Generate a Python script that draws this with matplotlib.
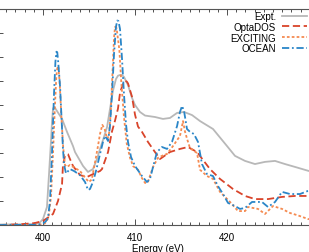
import matplotlib
matplotlib.use("Agg")
import matplotlib.pyplot as plt
from matplotlib.ticker import MultipleLocator, FixedLocator
import numpy as np

plt.rcParams['font.family'] = ['Liberation Sans', 'DejaVu Sans']

expt_E = [395.3, 399.0, 399.6, 400.0, 400.43, 400.65, 400.87, 400.98, 401.09, 401.2, 401.3, 401.52,
          402.07, 402.61, 403.26, 403.48, 404.35, 404.89, 405.43, 405.87, 406.2, 406.63,
          406.96, 407.28, 407.61, 407.93, 408.15, 408.37, 408.6, 408.8, 409.24, 409.67, 410.0, 410.54,
          411.09, 412.17, 413.04, 413.8, 414.57, 415.33, 416.2, 417.07, 418.48, 420.0,
          420.87, 421.96, 423.04, 424.13, 425.22, 426.3, 427.39, 428.9, 430.0]
expt_I = [0.02, 0.03, 0.08, 0.25, 0.75, 2.1, 3.5, 4.3, 4.85, 4.92, 4.88, 4.75,
          4.42, 3.88, 3.29, 3.04, 2.46, 2.21, 2.33, 2.75, 3.17, 3.67,
          4.08, 4.83, 5.6, 6.08, 6.22, 6.25, 6.24, 6.17, 5.83, 5.3, 5.0, 4.71,
          4.56, 4.5, 4.42, 4.46, 4.67, 4.71, 4.58, 4.33, 4.0, 3.29,
          2.88, 2.67, 2.54, 2.63, 2.67, 2.54, 2.42, 2.25, 2.2]

opta_E = [395.3, 397.5, 399.1, 400.0, 400.5, 401.09, 401.63, 402.07, 402.17, 402.39, 402.6, 402.72,
          402.93, 403.26, 404.02, 404.78, 405.43, 406.2, 406.41, 407.07, 407.5, 407.83,
          408.15, 408.37, 408.7, 408.91, 409.1, 409.24, 409.67, 410.0, 410.33, 410.76, 411.41, 412.17,
          412.72, 413.8, 414.89, 415.76, 416.74, 418.15, 419.24, 420.65, 421.96, 423.04,
          424.46, 425.98, 427.39, 428.8, 430.0]
opta_I = [0.0, 0.03, 0.08, 0.17, 0.3, 0.46, 1.0, 1.71, 2.5, 2.88, 2.96, 2.95,
          2.75, 2.46, 2.08, 2.0, 2.12, 2.25, 2.33, 3.04, 3.9, 4.35,
          4.85, 5.5, 5.9, 6.0, 5.98, 5.9, 5.35, 4.6, 4.1, 3.88, 3.46, 3.04,
          2.75, 3.04, 3.17, 3.25, 3.04, 2.33, 1.92, 1.5, 1.21, 1.08,
          1.08, 1.17, 1.21, 1.21, 1.21]

exc_E = [395.3, 399.5, 400.2, 400.6, 400.87, 401.09, 401.3, 401.45, 401.58, 401.68, 401.8, 402.0,
         402.2, 402.39, 402.6, 402.93, 403.37, 404.02, 404.6, 404.99, 405.3, 405.65,
         405.98, 406.2, 406.45, 406.7, 406.96, 407.15, 407.35, 407.55, 407.72, 407.83,
         408.0, 408.3, 408.5, 408.8, 409.1, 409.46, 409.8, 410.33, 410.76, 411.1,
         411.41, 411.96, 412.5, 413.04, 413.48, 414.13, 414.89, 415.22, 415.43, 415.65,
         415.98, 416.74, 417.07, 417.83, 418.48, 419.24, 420.33, 421.2, 421.96, 422.28,
         423.37, 424.13, 425.0, 425.98, 426.85, 427.72, 428.8, 430.0]
exc_I = [0.0, 0.01, 0.06, 0.3, 1.2, 3.0, 5.0, 6.2, 6.62, 6.55, 6.0, 4.5,
         3.2, 2.5, 2.42, 2.5, 2.4, 2.25, 1.96, 1.79, 1.9, 2.6,
         3.3, 3.8, 4.17, 4.0, 3.6, 3.7, 4.6, 6.3, 7.8, 8.25,
         8.2, 7.3, 6.0, 4.5, 3.4, 2.8, 2.45, 2.3, 1.95, 1.75,
         1.8, 2.42, 2.8, 2.9, 2.96, 3.29, 3.71, 4.33, 3.9, 3.6,
         3.2, 3.0, 2.3, 2.04, 1.92, 1.38, 0.96, 0.58, 0.58, 0.75,
         0.67, 0.46, 0.79, 0.67, 0.5, 0.4, 0.25, 0.2]

ocean_E = [395.3, 399.5, 400.0, 400.3, 400.54, 400.76, 400.98, 401.2, 401.35, 401.46, 401.55, 401.65,
           401.85, 402.07, 402.17, 402.3, 402.5, 402.93, 403.37, 404.02, 404.57, 404.89,
           405.11, 405.43, 405.76, 406.2, 406.52, 406.74, 406.96, 407.07, 407.28, 407.5,
           407.72, 407.93, 408.07, 408.2, 408.37, 408.59, 408.8, 409.02, 409.24, 409.57, 410.0,
           410.76, 411.3, 411.63, 411.96, 412.39, 412.93, 413.48, 414.02, 414.57, 414.89,
           415.11, 415.33, 415.65, 415.98, 416.41, 416.85, 417.28, 417.83, 418.48, 419.02,
           419.57, 420.11, 420.87, 421.41, 421.96, 422.72, 423.8, 424.46, 425.22, 425.98,
           426.85, 427.93, 428.8, 430.0]
ocean_I = [0.0, 0.01, 0.06, 0.15, 0.3, 1.0, 3.0, 5.5, 6.8, 7.22, 7.2, 6.8,
           5.8, 4.0, 3.17, 2.5, 2.15, 2.33, 2.25, 2.08, 1.79, 1.46,
           1.5, 1.79, 2.25, 2.96, 3.46, 3.71, 3.58, 3.5, 4.12, 5.46,
           7.12, 8.25, 8.52, 8.5, 8.17, 6.92, 5.46, 4.21, 3.46, 2.83, 2.46,
           2.04, 1.79, 1.92, 2.42, 3.04, 3.25, 3.17, 3.46, 4.12, 4.71,
           4.96, 4.75, 4.0, 3.88, 3.79, 3.46, 2.54, 2.12, 2.04, 1.62,
           1.29, 0.92, 0.79, 0.67, 0.71, 0.96, 0.96, 0.75, 0.96, 1.38,
           1.29, 1.29, 1.42, 1.5]

x_ticks = [400, 410, 420]

W, H = 309, 253
fig = plt.figure(figsize=(W / 100, H / 100), dpi=100)
ax = fig.add_axes([-3 / W, 27 / H, 322 / W, 216 / H])

ax.plot(expt_E, expt_I, color='#b8b8b8', lw=1.3, ls='-', label='Expt.')
ax.plot(opta_E, opta_I, color='#d9442a', lw=1.3, ls=(0, (4, 2)), label='OptaDOS')
ax.plot(exc_E, exc_I, color='#f58a50', lw=1.3, ls=(0, (1.5, 1.2)), label='EXCITING')
ax.plot(ocean_E, ocean_I, color='#2a86c8', lw=1.3, ls=(0, (4, 1.5, 1, 1.5)), label='OCEAN')

ax.set_xlim(395, 430)
ax.set_ylim(0, 9)
ax.xaxis.set_major_locator(FixedLocator(x_ticks))
ax.xaxis.set_minor_locator(MultipleLocator(1))
ax.yaxis.set_major_locator(MultipleLocator(1))
ax.tick_params(which='both', direction='in', top=True, right=True, labelleft=False,
               labelsize=7, width=0.6, colors='#333333', pad=5)
ax.tick_params(which='major', length=4)
ax.tick_params(which='minor', length=2)
ax.tick_params(axis='x', labelcolor='black')
for s in ax.spines.values():
    s.set_color('#555555')
    s.set_linewidth(0.8)
ax.set_xlabel('Energy (eV)', fontsize=7, labelpad=1)

fig.legend(loc='upper right', bbox_to_anchor=(307 / W, 1 - 12 / H),
           frameon=False, markerfirst=False, fontsize=7, handlelength=2.6,
           handletextpad=0.6, borderpad=0, borderaxespad=0, labelspacing=0.08)

fig.savefig('out.png', dpi=100)
